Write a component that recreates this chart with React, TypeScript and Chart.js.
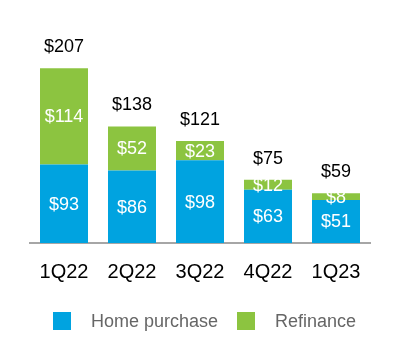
import React, { useEffect, useRef } from "react";
import { Chart, registerables } from "chart.js";

Chart.register(...registerables);

const categories = ["1Q22", "2Q22", "3Q22", "4Q22", "1Q23"];
const homePurchase = [93, 86, 98, 63, 51];
const refinance = [114, 52, 23, 12, 8];
const seriesNames = ["Home purchase", "Refinance"];
const seriesColors = ["#00a3e0", "#8cc440"];

const FONT = "'Liberation Sans', Arial, Helvetica, sans-serif";

const labelPlugin = {
  id: "labels",
  afterDatasetsDraw(chart: any) {
    const ctx = chart.ctx;
    ctx.save();
    ctx.font = `18px ${FONT}`;
    ctx.textAlign = "center";
    ctx.textBaseline = "middle";
    // segment labels
    chart.data.datasets.forEach((ds: any, di: number) => {
      const meta = chart.getDatasetMeta(di);
      meta.data.forEach((bar: any, i: number) => {
        const top = bar.y;
        const bottom = bar.base;
        ctx.fillStyle = "#ffffff";
        ctx.fillText("$" + ds.data[i], bar.x, (top + bottom) / 2 + 1);
      });
    });
    // totals
    const lastMeta = chart.getDatasetMeta(chart.data.datasets.length - 1);
    lastMeta.data.forEach((bar: any, i: number) => {
      const total = chart.data.datasets.reduce((s: number, d: any) => s + d.data[i], 0);
      ctx.fillStyle = "#000000";
      ctx.fillText("$" + total, bar.x, bar.y - 21);
    });
    // legend
    const legendY = 321;
    const items = chart.data.datasets.map((d: any) => ({ text: d.label, color: d.backgroundColor }));
    const xs = [53, 237];
    items.forEach((it: any, k: number) => {
      ctx.fillStyle = it.color;
      ctx.fillRect(xs[k], legendY - 9, 18, 18);
      ctx.fillStyle = "#666666";
      ctx.textAlign = "left";
      ctx.fillText(it.text, xs[k] + 38, legendY + 1);
    });
    ctx.restore();
  },
};

export default function App() {
  const ref = useRef<HTMLCanvasElement>(null);
  useEffect(() => {
    if (!ref.current) return;
    const chart = new Chart(ref.current, {
      type: "bar",
      data: {
        labels: categories,
        datasets: [
          { label: seriesNames[0], data: homePurchase, backgroundColor: seriesColors[0] },
          { label: seriesNames[1], data: refinance, backgroundColor: seriesColors[1] },
        ],
      },
      options: {
        animation: false,
        responsive: false,
        maintainAspectRatio: false,
        events: [],
        layout: { padding: { top: 32, left: 30, right: 30, bottom: 63 } },
        plugins: { legend: { display: false }, tooltip: { enabled: false } },
        datasets: { bar: { categoryPercentage: 1, barPercentage: 48 / 68 } },
        scales: {
          x: {
            stacked: true,
            grid: { display: false, drawTicks: false },
            border: { display: true, color: "#a6a6a6", width: 2 },
            ticks: { color: "#000", font: { family: FONT, size: 20 }, padding: 17, maxRotation: 0 },
          },
          y: { stacked: true, display: false, min: 0, max: 250 },
        },
      },
      plugins: [labelPlugin],
    } as any);
    return () => chart.destroy();
  }, []);
  return (
    <div style={{ position: "fixed", left: 0, top: 0, width: 400, height: 364, background: "#fff" }}>
      <canvas ref={ref} width={400} height={364} style={{ display: "block" }} />
    </div>
  );
}
